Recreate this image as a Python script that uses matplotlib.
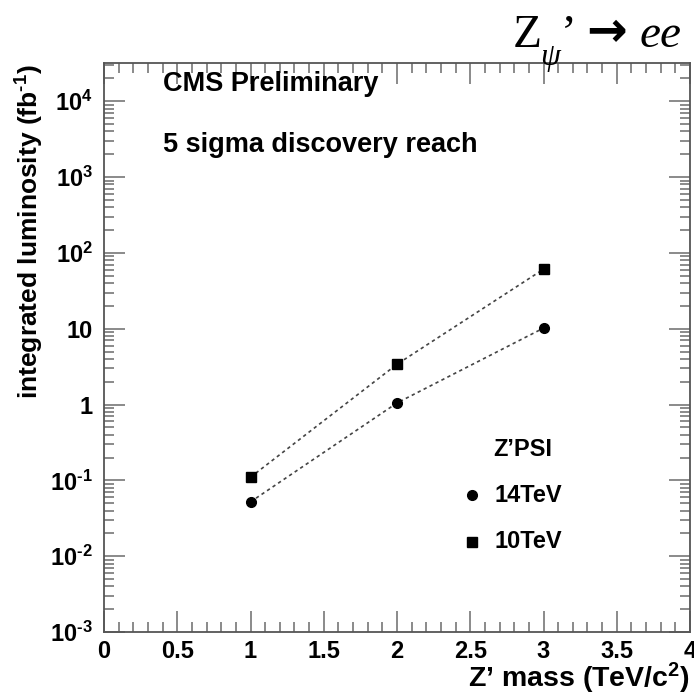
import numpy as np
import matplotlib
matplotlib.use('Agg')
import matplotlib.pyplot as plt
from matplotlib.ticker import FixedLocator, MultipleLocator, LogLocator, NullFormatter

plt.rcParams['font.family'] = ['Liberation Sans', 'DejaVu Sans']
plt.rcParams['mathtext.fontset'] = 'custom'
plt.rcParams['mathtext.rm'] = 'Liberation Sans:bold'
plt.rcParams['mathtext.it'] = 'Liberation Sans:bold:italic'
plt.rcParams['mathtext.bf'] = 'Liberation Sans:bold'

# Z' -> ee discovery reach, 5 sigma
mass = [1, 2, 3]                  # TeV/c^2
lumi_14tev = [0.052, 1.05, 10.2]  # fb^-1
lumi_10tev = [0.11, 3.4, 61]      # fb^-1

xticks = [0, 0.5, 1, 1.5, 2, 2.5, 3, 3.5, 4]
xticklabels = ['0', '0.5', '1', '1.5', '2', '2.5', '3', '3.5', '4']
yticks = [1e-3, 1e-2, 1e-1, 1, 10, 1e2, 1e3, 1e4]
yticklabels = [r'$10^{\text{-3}}$', r'$10^{\text{-2}}$', r'$10^{\text{-1}}$', '1', '10',
               r'$10^{2}$', r'$10^{3}$', r'$10^{4}$']

W = 694.0
fig = plt.figure(figsize=(6.94, 6.94), dpi=100)
ax = fig.add_axes([104 / W, 1 - 632 / W, 586 / W, 569 / W])

lc = '#444444'
ax.plot(mass, lumi_14tev, color=lc, lw=1.2, ls=(0, (2, 2)), zorder=2)
ax.plot(mass, lumi_10tev, color=lc, lw=1.2, ls=(0, (2, 2)), zorder=2)
ax.plot(mass, lumi_14tev, 'o', color='black', ms=7, zorder=3)
ax.plot(mass, lumi_10tev, 's', color='black', ms=6.5, zorder=3)

ax.set_yscale('log')
ax.set_xlim(0, 4)
ax.set_ylim(1e-3, 3.2e4)

ax.xaxis.set_major_locator(FixedLocator(xticks))
ax.set_xticklabels(xticklabels)
ax.xaxis.set_minor_locator(MultipleLocator(0.1))
ax.yaxis.set_major_locator(FixedLocator(yticks))
ax.set_yticklabels(yticklabels)
ax.yaxis.set_minor_locator(LogLocator(base=10, subs=np.arange(2, 10), numticks=20))
ax.yaxis.set_minor_formatter(NullFormatter())

tc = '#777777'
ax.tick_params(which='both', direction='in', top=True, right=True, color=tc, width=1.2,
               labelsize=17, labelcolor='black')
ax.tick_params(which='major', length=15, pad=6)
ax.tick_params(axis='y', which='major', pad=8)
ax.tick_params(which='minor', length=7)
for s in ax.spines.values():
    s.set_color('#555555')
    s.set_linewidth(1.3)
for lab in ax.get_xticklabels() + ax.get_yticklabels():
    lab.set_fontweight('bold')

# axis titles, right/top aligned
fig.text(690 / W, 1 - 687 / W, r"Z’ mass (TeV/c$^{2}$)", ha='right', va='baseline',
         fontsize=20.5, fontweight='bold')
fig.text(30 / W, 1 - 64 / W, r"integrated luminosity (fb$^{\text{-1}}$)", ha='center', va='top',
         rotation=90, fontsize=19, fontweight='bold')

# header: Z_psi' -> ee
serif = ['Liberation Serif', 'DejaVu Serif']
fig.text(513 / W, 1 - 47 / W, "Z", ha='left', va='baseline', fontsize=34, family=serif)
fig.text(540 / W, 1 - 65 / W, "ψ", ha='left', va='baseline', fontsize=23, family=serif,
         style='italic')
fig.text(561 / W, 1 - 47 / W, "’", ha='left', va='baseline', fontsize=34, family=serif)
fig.text(607 / W, 1 - 32 / W, "→", ha='center', va='center', fontsize=35,
         family=['DejaVu Sans'], fontweight='bold')
fig.text(640 / W, 1 - 47 / W, "ee", ha='left', va='baseline', fontsize=34, family=serif,
         style='italic')

fig.text(163 / W, 1 - 84 / W, "CMS Preliminary", ha='left', va='center', fontsize=19.5,
         fontweight='bold')
fig.text(163 / W, 1 - 145 / W, "5 sigma discovery reach", ha='left', va='center', fontsize=19.5,
         fontweight='bold')

# legend
fig.text(493 / W, 1 - 450 / W, "Z’PSI", ha='left', va='center', fontsize=17, fontweight='bold')
fig.text(495 / W, 1 - 495 / W, "14TeV", ha='left', va='center', fontsize=17, fontweight='bold')
fig.text(495 / W, 1 - 542 / W, "10TeV", ha='left', va='center', fontsize=17, fontweight='bold')
fig.lines.append(plt.Line2D([472 / W], [1 - 495 / W], marker='o', color='black', ms=7,
                            transform=fig.transFigure, figure=fig))
fig.lines.append(plt.Line2D([472 / W], [1 - 542 / W], marker='s', color='black', ms=6.5,
                            transform=fig.transFigure, figure=fig))

fig.savefig('out.png', dpi=100)
